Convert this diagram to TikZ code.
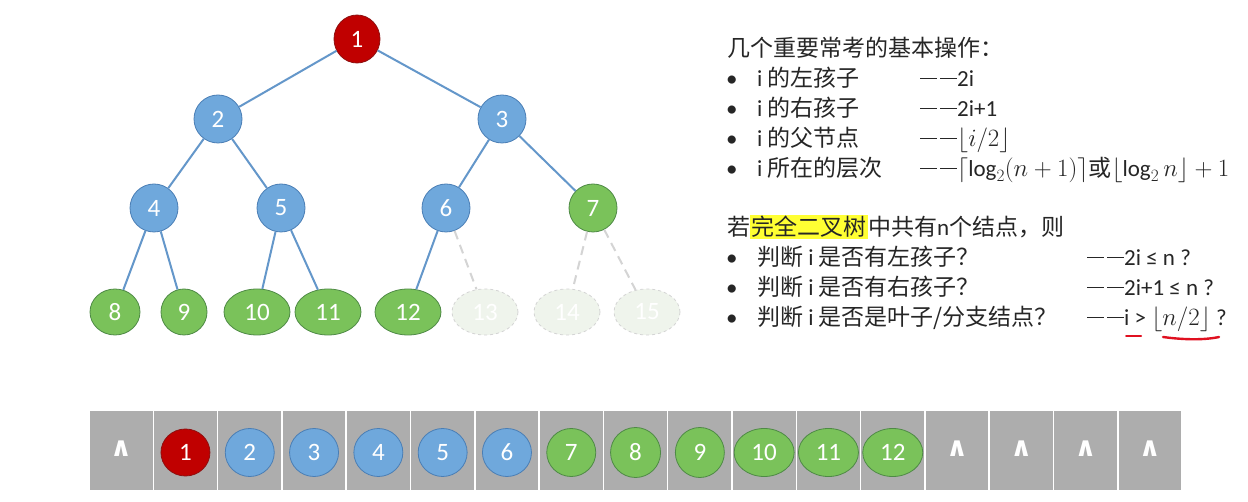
\documentclass[tikz,border=0pt]{standalone}
\usepackage{fontspec}
\setmainfont{Carlito}
\newfontfamily\cjk{Noto Sans CJK SC}
\newfontfamily\dejavu{DejaVu Sans}
\usetikzlibrary{shapes.geometric}
\definecolor{nred}{HTML}{C00000}
\definecolor{nredd}{HTML}{8E1010}
\definecolor{nblue}{HTML}{6FA8DC}
\definecolor{nblued}{HTML}{4A7EB5}
\definecolor{ngreen}{HTML}{7AC25A}
\definecolor{ngreend}{HTML}{4E8A45}
\definecolor{ghostfill}{HTML}{EFF4EC}
\definecolor{ghostline}{HTML}{D4D4D4}
\definecolor{edgeblue}{HTML}{6497CA}
\definecolor{cellgray}{HTML}{ADADAD}
\definecolor{txtc}{HTML}{262626}
\definecolor{hl}{HTML}{FFFF33}
\definecolor{penred}{HTML}{E01020}
\newcommand{\ddash}{\rule[7.5pt]{17pt}{1.4pt}\hspace{3pt}\rule[7.5pt]{17pt}{1.4pt}}
\begin{document}
\begin{tikzpicture}[x=1pt,y=-1pt,
  tn/.style={ellipse, line width=0.8pt, minimum width=48pt, minimum height=48pt, inner sep=0pt, text=white, font=\fontsize{25}{28}\selectfont},
  rn/.style={tn, fill=nred, draw=nredd},
  bn/.style={tn, fill=nblue, draw=nblued},
  gn/.style={tn, fill=ngreen, draw=ngreend},
  ghn/.style={tn, fill=ghostfill, draw=ghostline, dashed},
  wide/.style={minimum width=66pt, minimum height=46pt},
  leaf/.style={minimum width=50pt, minimum height=46pt},
  an/.style={minimum width=60pt, minimum height=48pt},
  tedge/.style={draw=edgeblue, line width=2pt},
  gedge/.style={draw=ghostline, line width=2pt, dash pattern=on 9pt off 6pt},
  cell/.style={rectangle, fill=cellgray, draw=white, line width=1.5pt, minimum width=64.3pt, minimum height=81pt, inner sep=0pt},
  caret/.style={text=white, font=\dejavu\bfseries\fontsize{27}{30}\selectfont, inner sep=0pt},
  txt/.style={anchor=base west, inner sep=0pt, text=txtc, font=\fontsize{23}{26}\selectfont},
]
\useasboundingbox (0,0) rectangle (1248,502);
\fill[white] (0,0) rectangle (1248,502);

% ---------- tree ----------
\node[rn, minimum width=46pt] (t1) at (357,39) {1};
\node[bn] (t2) at (218,119) {2};
\node[bn] (t3) at (502,119) {3};
\node[bn] (t4) at (154,208) {4};
\node[bn] (t5) at (281,208) {5};
\node[bn] (t6) at (446,208) {6};
\node[gn] (t7) at (593,208) {7};
\node[gn, leaf] (t8) at (115,312) {8};
\node[gn, minimum width=46pt, minimum height=46pt] (t9) at (184,312) {9};
\node[gn, wide] (t10) at (257,312) {10};
\node[gn, wide] (t11) at (328,312) {11};
\node[gn, wide] (t12) at (408,312) {12};
\node[ghn, wide] (t13) at (485,312) {13};
\node[ghn, wide] (t14) at (567,312) {14};
\node[ghn, wide] (t15) at (647,312) {15};

\draw[tedge] (t1) -- (t2);
\draw[tedge] (t1) -- (t3);
\draw[tedge] (t2) -- (t4);
\draw[tedge] (t2) -- (t5);
\draw[tedge] (t3) -- (t6);
\draw[tedge] (t3) -- (t7);
\draw[tedge] (t4) -- (t8);
\draw[tedge] (t4) -- (t9);
\draw[tedge] (t5) -- (t10);
\draw[tedge] (t5) -- (t11);
\draw[tedge] (t6) -- (t12);
\draw[gedge] (t6) -- (t13);
\draw[gedge] (t7) -- (t14);
\draw[gedge] (t7) -- (t15);

% ---------- right text ----------
\node[txt] (h1) at (727,57) {\cjk 几个重要常考的基本操作：};
\node[txt] (b1) at (726,87) {•};
\node[txt] (b2) at (726,117) {•};
\node[txt] (b3) at (726,147) {•};
\node[txt] (b4) at (726,177) {•};
\node[txt] (i1) at (757,87) {i {\cjk 的左孩子}};
\node[txt] (i2) at (757,117) {i {\cjk 的右孩子}};
\node[txt] (i3) at (757,147) {i {\cjk 的父节点}};
\node[txt] (i4) at (757,177) {i {\cjk 所在的层次}};
\node[txt] (f1) at (920,87) {\ddash 2i};
\node[txt] (f2) at (920,117) {\ddash 2i+1};
\node[txt] (f3) at (920,147) {\ddash$\lfloor i/2\rfloor$};
\node[txt] (f4) at (920,177) {\ddash$\lceil \log_2(n+1)\rceil${\cjk 或}$\lfloor \log_2 n\rfloor+1$};

\node[txt] (h2) at (727,236) {{\cjk 若}{\setlength\fboxsep{1.5pt}\colorbox{hl}{\cjk 完全二叉树}}{\cjk 中共有}n{\cjk 个结点，则}};
\node[txt] (b5) at (726,266) {•};
\node[txt] (b6) at (726,296) {•};
\node[txt] (b7) at (726,326) {•};
\node[txt] (j1) at (757,266) {{\cjk 判断} i {\cjk 是否有左孩子？}};
\node[txt] (j2) at (757,296) {{\cjk 判断} i {\cjk 是否有右孩子？}};
\node[txt] (j3) at (757,326) {{\cjk 判断} i {\cjk 是否是叶子/分支结点？}};
\node[txt] (g1) at (1087,266) {\ddash 2i ≤ n ?};
\node[txt] (g2) at (1087,296) {\ddash 2i+1 ≤ n ?};
\node[txt] (g3) at (1087,326) {\ddash i > $\lfloor n/2\rfloor$ ?};
\draw[penred, line width=2pt, line cap=round] (1126,336) -- (1141,336);
\draw[penred, line width=2.4pt, line cap=round] (1163,337) .. controls (1185,340) and (1205,340) .. (1219,337);

% ---------- array ----------
\foreach \k in {0,...,16} {
  \node[cell] (c\k) at ({89+64.3*(\k+0.5)},450.5) {};
}
\node[caret] (k0) at ([yshift=2pt]c0.center) {∧};
\node[caret] (k13) at ([yshift=2pt]c13.center) {∧};
\node[caret] (k14) at ([yshift=2pt]c14.center) {∧};
\node[caret] (k15) at ([yshift=2pt]c15.center) {∧};
\node[caret] (k16) at ([yshift=2pt]c16.center) {∧};

\node[rn, minimum width=49pt, minimum height=47pt] (a1) at ([yshift=-2pt]c1.center) {1};
\node[bn, minimum width=49pt] (a2) at ([yshift=-2pt]c2.center) {2};
\node[bn, minimum width=49pt] (a3) at ([yshift=-2pt]c3.center) {3};
\node[bn, minimum width=49pt] (a4) at ([yshift=-2pt]c4.center) {4};
\node[bn, minimum width=49pt] (a5) at ([yshift=-2pt]c5.center) {5};
\node[bn, minimum width=49pt] (a6) at ([yshift=-2pt]c6.center) {6};
\node[gn, minimum width=49pt] (a7) at ([yshift=-2pt]c7.center) {7};
\node[gn, minimum width=50pt, minimum height=50pt] (a8) at ([yshift=-2pt]c8.center) {8};
\node[gn, minimum width=49pt, minimum height=50pt] (a9) at ([yshift=-2pt]c9.center) {9};
\node[gn, an] (a10) at ([yshift=-2pt]c10.center) {10};
\node[gn, an] (a11) at ([yshift=-2pt]c11.center) {11};
\node[gn, an] (a12) at ([yshift=-2pt]c12.center) {12};
\end{tikzpicture}
\end{document}
